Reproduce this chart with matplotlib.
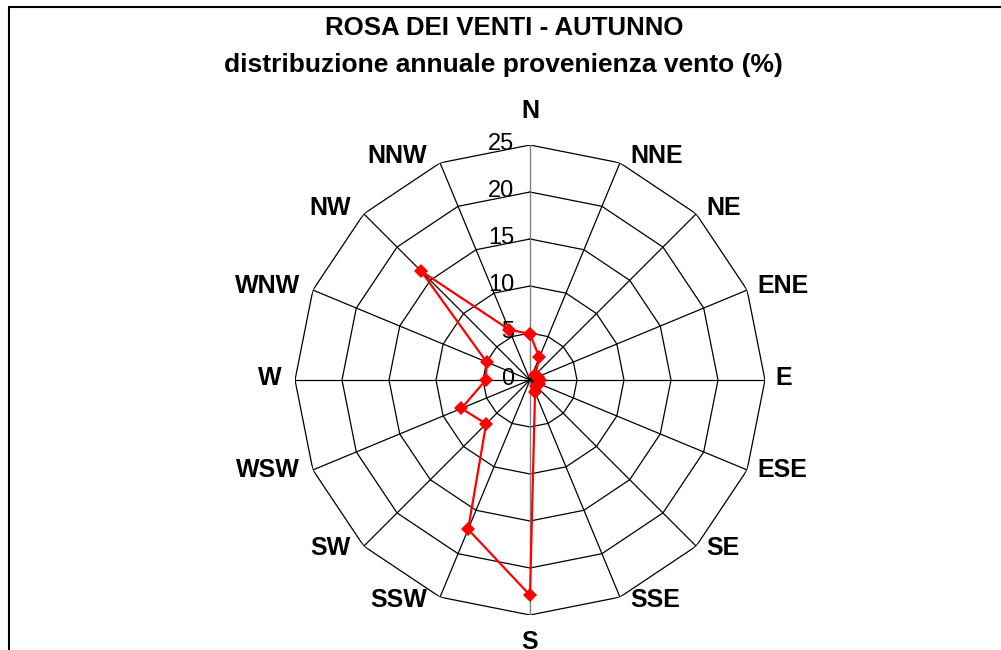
import numpy as np
import matplotlib
matplotlib.use("Agg")
from matplotlib import pyplot as plt
from matplotlib.patches import Rectangle

plt.rcParams['font.family'] = ['Liberation Sans', 'DejaVu Sans']

# dati
directions = ['N', 'NNE', 'NE', 'ENE', 'E', 'ESE', 'SE', 'SSE',
              'S', 'SSW', 'SW', 'WSW', 'W', 'WNW', 'NW', 'NNW']
freq = [4.9, 2.6, 0.8, 0.9, 1.1, 1.0, 0.9, 1.4,
        22.9, 17.2, 6.6, 7.9, 4.7, 5.0, 16.4, 5.8]
rings = [5, 10, 15, 20, 25]
tick_labels = ['0', '5', '10', '15', '20', '25']
tick_values = [0, 5, 10, 15, 20, 25]

title1 = 'ROSA DEI VENTI - AUTUNNO'
title2 = 'distribuzione annuale provenienza vento (%)'

fig = plt.figure(figsize=(10.01, 6.5), dpi=100)

# cornice (solo lato sinistro e superiore visibili)
fig.patches.append(Rectangle((9 / 1001, -0.2), 1.2, 1.2 - 7 / 650,
                             transform=fig.transFigure, fill=False,
                             edgecolor='black', lw=1.5))

cx, cy, rad = 530 / 1001, 1 - 380 / 650, 235
ax = fig.add_axes([cx - rad / 1001, cy - rad / 650, 2 * rad / 1001, 2 * rad / 650],
                  projection='polar')
ax.set_theta_zero_location('N')
ax.set_theta_direction(-1)
ax.set_ylim(0, 25)
ax.grid(False)
ax.spines['polar'].set_visible(False)
ax.set_xticks([])
ax.set_yticks([])
ax.patch.set_alpha(0)

n = len(directions)
theta = np.arange(n) * 2 * np.pi / n
theta_c = np.append(theta, theta[0])

# griglia poligonale
for r in rings:
    ax.plot(theta_c, [r] * (n + 1), color='black', lw=0.9, zorder=1)
for i, t in enumerate(theta):
    col = '#808080' if directions[i] in ('N', 'S') else 'black'
    ax.plot([t, t], [0, 25], color=col, lw=1.0 if col != 'black' else 0.9, zorder=1)

# etichette direzioni
for t, name in zip(theta, directions):
    s, c = np.sin(t), np.cos(t)
    if abs(s) < 0.01:
        va = 'bottom' if c > 0 else 'top'
        off = (0, 22 if c > 0 else -15)
        ha = 'center'
    else:
        ha = 'left' if s > 0 else 'right'
        va = 'center'
        off = (10 if s > 0 else -13, 5 * c + 2)
    ax.annotate(name, xy=(t, 25), xytext=off, textcoords='offset pixels',
                ha=ha, va=va, fontsize=18, fontweight='bold', annotation_clip=False)

# etichette asse valori
for v, lab in zip(tick_values, tick_labels):
    ax.annotate(lab, xy=(0, v), xytext=(-16, 1), textcoords='offset pixels',
                ha='right', va='center', fontsize=17, zorder=2)

# serie
ax.plot(theta_c, freq + [freq[0]], color='#ff0000', lw=1.6, marker='D',
        markersize=7.5, markeredgewidth=0, zorder=3, clip_on=False)

fig.text(504 / 1001, 1 - 28 / 650, title1, ha='center', va='center',
         fontsize=18.6, fontweight='bold')
fig.text(503 / 1001, 1 - 65 / 650, title2, ha='center', va='center',
         fontsize=19, fontweight='bold')

fig.savefig('out.png', dpi=100)
